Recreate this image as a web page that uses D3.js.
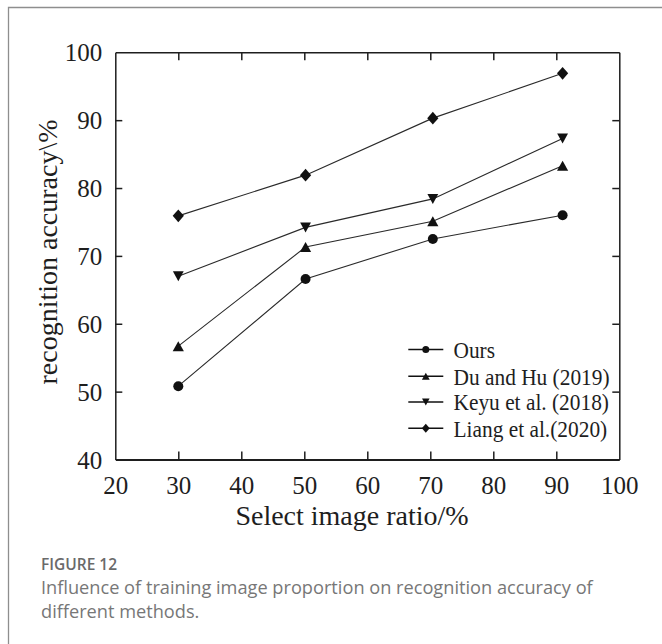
<!DOCTYPE html>
<html>
<head>
<meta charset="utf-8">
<script src="https://cdn.jsdelivr.net/npm/d3@7/dist/d3.min.js"></script>
<style>
  html, body { margin: 0; padding: 0; background: #ffffff; }
  svg { display: block; }
</style>
</head>
<body>
<svg id="chart" width="662" height="644"></svg>
<script>
// ---- data ----
const xValues = [30, 50.2, 70.4, 91];
const seriesNames = ["Ours", "Du and Hu (2019)", "Keyu et al. (2018)", "Liang et al.(2020)"];
const oursValues  = [50.8, 66.6, 72.5, 76.0];
const duValues    = [56.7, 71.3, 75.1, 83.3];
const keyuValues  = [67.0, 74.2, 78.4, 87.3];
const liangValues = [75.9, 81.9, 90.3, 96.9];
const xTicks = [20, 30, 40, 50, 60, 70, 80, 90, 100];
const yTicks = [40, 50, 60, 70, 80, 90, 100];
const xTitle = "Select image ratio/%";
const yTitle = "recognition accuracy\\%";
const captionLabel = "FIGURE 12";
const captionLines = ["Influence of training image proportion on recognition accuracy of", "different methods."];

// ---- layout ----
const svg = d3.select("#chart");
const pLeft = 115.3, pRight = 619.3, pTop = 52.3, pBottom = 459.5;
const x = d3.scaleLinear().domain([20, 100]).range([pLeft, pRight]);
const y = d3.scaleLinear().domain([40, 100]).range([pBottom, pTop]);
const serif = "'Liberation Serif', 'Times New Roman', serif";
const ink = "#1e1e1e";

// card border
svg.append("path")
  .attr("d", "M8.5,680 L8.5,7.5 L700,7.5")
  .attr("fill", "none").attr("stroke", "#8e8e8e").attr("stroke-width", 1.3);

// custom marker shapes (size = scale factor)
const triUp = { draw(ctx, s) { const w = 5.6*s, h = 5*s; ctx.moveTo(0, -h); ctx.lineTo(w, h); ctx.lineTo(-w, h); ctx.closePath(); } };
const triDown = { draw(ctx, s) { const w = 5.4*s, h = 5*s; ctx.moveTo(0, h); ctx.lineTo(w, -h); ctx.lineTo(-w, -h); ctx.closePath(); } };
const diamond = { draw(ctx, s) { const w = 5.6*s, h = 6.4*s; ctx.moveTo(0, -h); ctx.lineTo(w, 0); ctx.lineTo(0, h); ctx.lineTo(-w, 0); ctx.closePath(); } };
const circle = { draw(ctx, s) { const r = 5*s; ctx.moveTo(r, 0); ctx.arc(0, 0, r, 0, 2*Math.PI); } };

const series = [
  { name: seriesNames[0], values: oursValues,  shape: circle },
  { name: seriesNames[1], values: duValues,    shape: triUp },
  { name: seriesNames[2], values: keyuValues,  shape: triDown },
  { name: seriesNames[3], values: liangValues, shape: diamond }
];

// axes (ticks inward)
const gx = svg.append("g").attr("transform", `translate(0,${pBottom})`)
  .call(d3.axisBottom(x).tickValues(xTicks).tickSizeInner(-8).tickSizeOuter(0).tickPadding(0).tickFormat(d3.format("d")));
const gxTop = svg.append("g").attr("transform", `translate(0,${pTop})`)
  .call(d3.axisTop(x).tickValues(xTicks.slice(1, -1)).tickSizeInner(-8).tickSizeOuter(0).tickFormat(""));
const gy = svg.append("g").attr("transform", `translate(${pLeft},0)`)
  .call(d3.axisLeft(y).tickValues(yTicks).tickSizeInner(-7).tickSizeOuter(0).tickPadding(13).tickFormat(d3.format("d")));
const gyRight = svg.append("g").attr("transform", `translate(${pRight},0)`)
  .call(d3.axisRight(y).tickValues(yTicks.slice(1, -1)).tickSizeInner(-7).tickSizeOuter(0).tickFormat(""));

[gx, gxTop, gy, gyRight].forEach(g => {
  g.select(".domain").attr("stroke", ink).attr("stroke-width", 1.5);
  g.selectAll(".tick line").attr("stroke", ink).attr("stroke-width", 1.5);
});
gx.select(".domain").attr("stroke-width", 2.2);
gxTop.selectAll(".tick text").remove();
gyRight.selectAll(".tick text").remove();
// hide edge ticks on frame
gx.selectAll(".tick").filter(d => d === 20 || d === 100).select("line").remove();
gy.selectAll(".tick").filter(d => d === 40 || d === 100).select("line").remove();

gx.selectAll(".tick text")
  .attr("font-family", serif).attr("font-size", 25).attr("fill", ink)
  .attr("y", 34).attr("dy", 0);
gy.selectAll(".tick text")
  .attr("font-family", serif).attr("font-size", 25).attr("fill", ink)
  .attr("dy", "0.34em");

// lines
const line = d3.line().x((d, i) => x(xValues[i])).y(d => y(d));
const sym = d3.symbol();
series.forEach(s => {
  svg.append("path").datum(s.values)
    .attr("d", line).attr("fill", "none").attr("stroke", "#2a2a2a").attr("stroke-width", 1.1);
  svg.selectAll(null).data(s.values).join("path")
    .attr("transform", (d, i) => `translate(${x(xValues[i])},${y(d)})`)
    .attr("d", sym.type(s.shape).size(1)())
    .attr("fill", "#111");
});

// legend
const legendY = [349.5, 376.3, 402, 428.3];
const leg = svg.append("g");
series.forEach((s, i) => {
  const g = leg.append("g").attr("transform", `translate(0,${legendY[i]})`);
  g.append("line").attr("x1", 408.3).attr("x2", 443.3).attr("y1", 0).attr("y2", 0)
    .attr("stroke", "#111").attr("stroke-width", 1.4);
  g.append("path").attr("transform", "translate(425.8,0)")
    .attr("d", sym.type(s.shape).size(0.7)()).attr("fill", "#111");
  g.append("text").attr("transform", "translate(453.5,0) scale(0.93,1)")
    .attr("dy", "0.36em")
    .attr("font-family", serif).attr("font-size", 23).attr("fill", ink)
    .text(s.name);
});

// axis titles
svg.append("text").attr("x", 352).attr("y", 525)
  .attr("text-anchor", "middle").attr("font-family", serif).attr("font-size", 28).attr("fill", ink)
  .text(xTitle);
svg.append("text").attr("transform", "translate(57,252) rotate(-90)")
  .attr("text-anchor", "middle").attr("font-family", serif).attr("font-size", 28).attr("fill", ink)
  .text(yTitle);

// caption
svg.append("text").attr("x", 41).attr("y", 570)
  .attr("font-family", "'Open Sans', sans-serif").attr("font-weight", 600).attr("font-size", 15.5)
  .attr("fill", "#6a6a6a").text(captionLabel);
captionLines.forEach((t, i) => {
  svg.append("text").attr("x", 41).attr("y", 594 + i * 24)
    .attr("font-family", "'Open Sans', sans-serif").attr("font-weight", 400).attr("font-size", 18.2)
    .attr("fill", "#777777").text(t);
});
</script>
</body>
</html>
